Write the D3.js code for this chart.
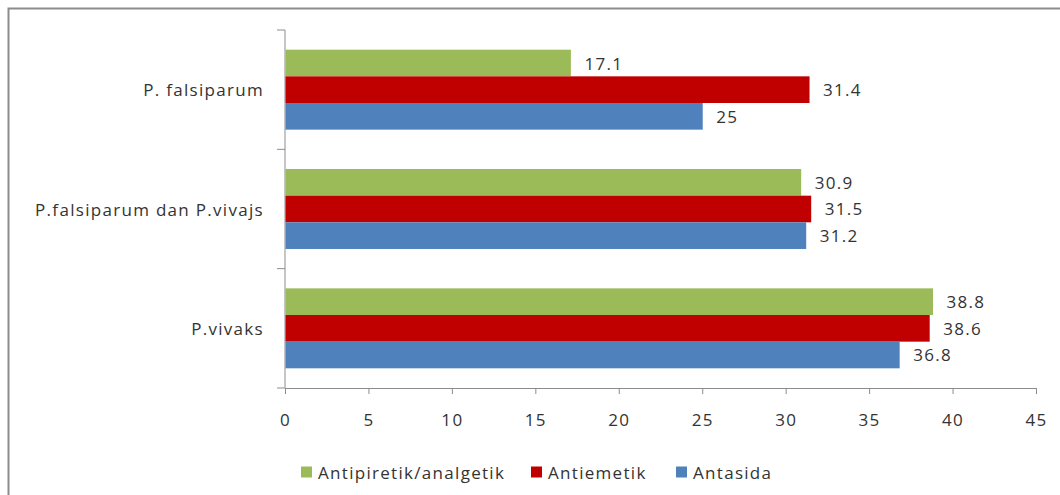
<!DOCTYPE html>
<html>
<head>
<meta charset="utf-8">
<script src="https://cdn.jsdelivr.net/npm/d3@7"></script>
<style>
  body { margin: 0; background: #fff; }
  text { font-family: "Open Sans", sans-serif; fill: #333; letter-spacing: 1.3px; }
</style>
</head>
<body>
<div id="chart"></div>
<script>
// data
const categories = ["P. falsiparum", "P.falsiparum dan P.vivajs", "P.vivaks"];
const seriesNames = ["Antipiretik/analgetik", "Antiemetik", "Antasida"];
const antipiretik = [17.1, 30.9, 38.8];
const antiemetik = [31.4, 31.5, 38.6];
const antasida = [25, 31.2, 36.8];
const xTicks = [0, 5, 10, 15, 20, 25, 30, 35, 40, 45];
const colors = ["#9BBB59", "#C00000", "#4F81BD"];

const width = 1060, height = 495;
const plot = { left: 285, right: 1036, top: 30, bottom: 388 };
const fontSize = 17;

const svg = d3.select("#chart").append("svg")
    .attr("width", width)
    .attr("height", height);

// outer frame (runs off the right and bottom)
svg.append("rect")
    .attr("x", 8.5).attr("y", 8.5)
    .attr("width", width + 20).attr("height", height + 20)
    .attr("fill", "none")
    .attr("stroke", "#8c8c8c")
    .attr("stroke-width", 2);

const x = d3.scaleLinear().domain([0, 45]).range([plot.left, plot.right]);
const y0 = d3.scaleBand().domain(categories).range([plot.top, plot.bottom]);
const gap = y0.bandwidth() * 0.165;
const y1 = d3.scaleBand().domain(seriesNames).range([gap, y0.bandwidth() - gap]);

const rows = categories.map((c, i) => ({
    cat: c,
    values: [antipiretik[i], antiemetik[i], antasida[i]].map((v, j) => ({ name: seriesNames[j], value: v, color: colors[j] }))
}));

// x axis
const xAxis = svg.append("g")
    .attr("transform", "translate(0," + plot.bottom + ")")
    .call(d3.axisBottom(x).tickValues(xTicks).tickSize(8).tickSizeOuter(0).tickPadding(18));
xAxis.select(".domain").attr("stroke", "#8c8c8c");
xAxis.selectAll(".tick line").attr("stroke", "#8c8c8c").attr("y1", 0).attr("y2", 6);
xAxis.selectAll(".tick text").attr("font-size", fontSize).attr("fill", "#333")
    .attr("font-family", "Open Sans, sans-serif");

// y axis line + ticks at category boundaries
svg.append("line")
    .attr("x1", plot.left).attr("x2", plot.left)
    .attr("y1", plot.top).attr("y2", plot.bottom)
    .attr("stroke", "#8c8c8c");
const bounds = categories.map(c => y0(c)).concat([plot.bottom]);
svg.selectAll(".ytick").data(bounds).join("line")
    .attr("class", "ytick")
    .attr("x1", plot.left - 8).attr("x2", plot.left)
    .attr("y1", d => d).attr("y2", d => d)
    .attr("stroke", "#8c8c8c");
svg.selectAll(".ylabel").data(categories).join("text")
    .attr("class", "ylabel")
    .attr("x", plot.left - 21)
    .attr("y", d => y0(d) + y0.bandwidth() / 2)
    .attr("text-anchor", "end")
    .attr("dominant-baseline", "central")
    .attr("font-size", fontSize)
    .text(d => d);

// bars
const groups = svg.selectAll(".grp").data(rows).join("g")
    .attr("class", "grp")
    .attr("transform", d => "translate(0," + y0(d.cat) + ")");
groups.selectAll("rect").data(d => d.values).join("rect")
    .attr("x", x(0) + 0.5)
    .attr("y", d => y1(d.name))
    .attr("width", d => x(d.value) - x(0))
    .attr("height", y1.bandwidth())
    .attr("fill", d => d.color);
groups.selectAll(".val").data(d => d.values).join("text")
    .attr("class", "val")
    .attr("x", d => x(d.value) + 14)
    .attr("y", d => y1(d.name) + y1.bandwidth() / 2)
    .attr("dominant-baseline", "central")
    .attr("font-size", fontSize)
    .text(d => d.value);

// legend
const legendX = [301, 531, 676];
const legend = svg.selectAll(".leg").data(seriesNames).join("g")
    .attr("class", "leg")
    .attr("transform", (d, i) => "translate(" + legendX[i] + ",472)");
legend.append("rect")
    .attr("x", 0).attr("y", -5.5)
    .attr("width", 11).attr("height", 11)
    .attr("fill", (d, i) => colors[i]);
legend.append("text")
    .attr("x", 17)
    .attr("dominant-baseline", "central")
    .attr("font-size", fontSize)
    .text(d => d);
</script>
</body>
</html>
